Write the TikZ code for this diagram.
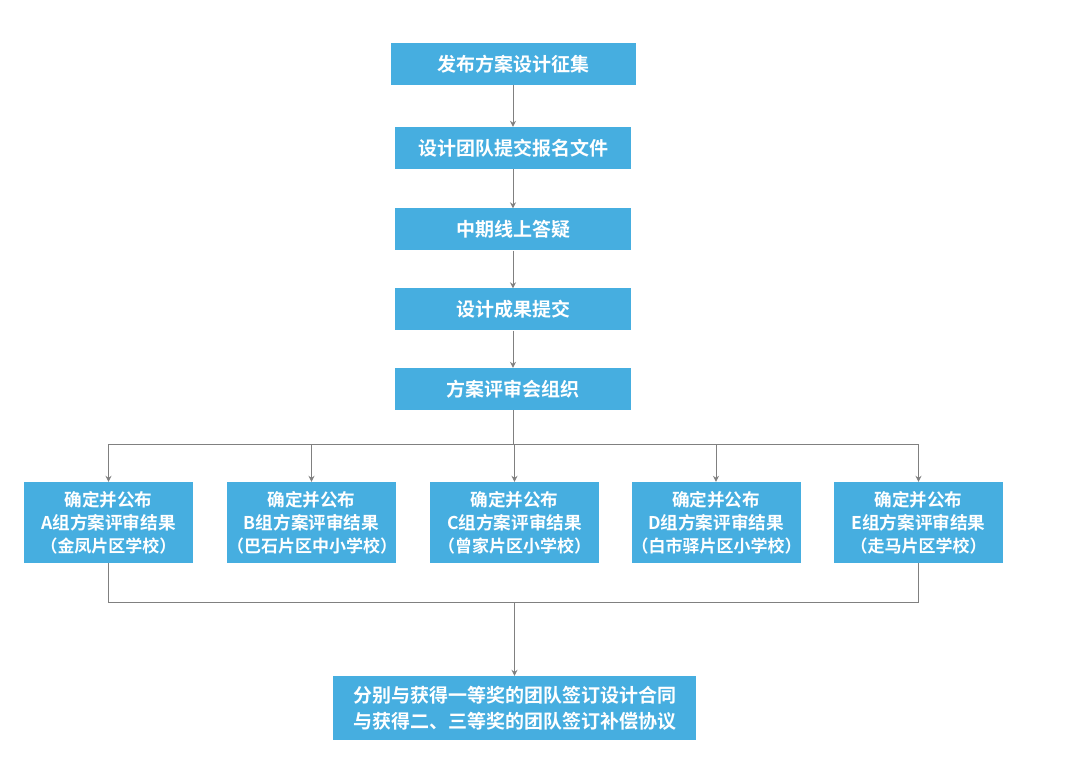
\documentclass[tikz,border=0pt]{standalone}
\usepackage{fontspec}
\newfontfamily\cjk{Noto Sans CJK SC}[BoldFont={Noto Sans CJK SC Bold}]
\usetikzlibrary{arrows.meta}

\definecolor{boxblue}{RGB}{70,174,224}
\definecolor{linegray}{RGB}{128,128,128}

\tikzset{
	step box/.style={
		fill=boxblue, text=white, inner sep=0pt,
		minimum width=236pt, minimum height=42pt,
		font=\cjk\bfseries\fontsize{19}{22}\selectfont
	},
	result box/.style={
		step box, align=center,
		text width=169pt, minimum width=169pt, minimum height=81pt,
		font=\cjk\bfseries\fontsize{17.6}{23}\selectfont
	},
	flow line/.style={draw=linegray, line width=1pt},
	flow arrow/.style={flow line, -{Stealth[length=6pt, width=6pt]}}
}

\begin{document}
\begin{tikzpicture}[x=1pt, y=-1pt]
		\useasboundingbox (0,0) rectangle (1080,770);
		% main column
		\node [step box, minimum width=245pt] (call) at (513,64) {发布方案设计征集};
		\node [step box] (enroll) at (513,148) {设计团队提交报名文件};
		\node [step box] (qa) at (513,229.5) {中期线上答疑};
		\node [step box] (submit) at (513,309.5) {设计成果提交};
		\node [step box] (review) at (513,389) {方案评审会组织};
		\draw [flow arrow] (call) -- (enroll);
		\draw [flow arrow] (enroll) -- (qa);
		\draw [flow arrow] (qa) -- (submit);
		\draw [flow arrow] (submit) -- (review);
		% five groups
		\foreach \g/\x/\school in {A/108.5/金凤片区学校, B/311.5/巴石片区中小学校, C/514.5/曾家片区小学校, D/716/白市驿片区小学校, E/918.5/走马片区学校}
			\node [result box] (res\g) at (\x,522.5) {确定并公布\\{\g}组方案评审结果\\{\fontsize{17}{23}\selectfont （{\school}）}};
		\coordinate (split) at (513,444);
		\draw [flow line] (review) -- (split);
		\draw [flow line] (resA.north |- split) -- (resE.north |- split);
		\foreach \g in {A,B,C,D,E}
			\draw [flow arrow] (res\g.north |- split) -- (res\g);
		% contracts
		\node [step box, align=center, minimum width=363pt, minimum height=64pt,
			font=\cjk\bfseries\fontsize{19}{26}\selectfont] (sign) at (514.5,708)
			{分别与获得一等奖的团队签订设计合同\\与获得二、三等奖的团队签订补偿协议};
		\coordinate (join) at (514.5,602);
		\draw [flow line] (resA) -- (resA.south |- join) -- (resE.south |- join) -- (resE);
		\draw [flow arrow] (join) -- (sign);
	\end{tikzpicture}
\end{document}
